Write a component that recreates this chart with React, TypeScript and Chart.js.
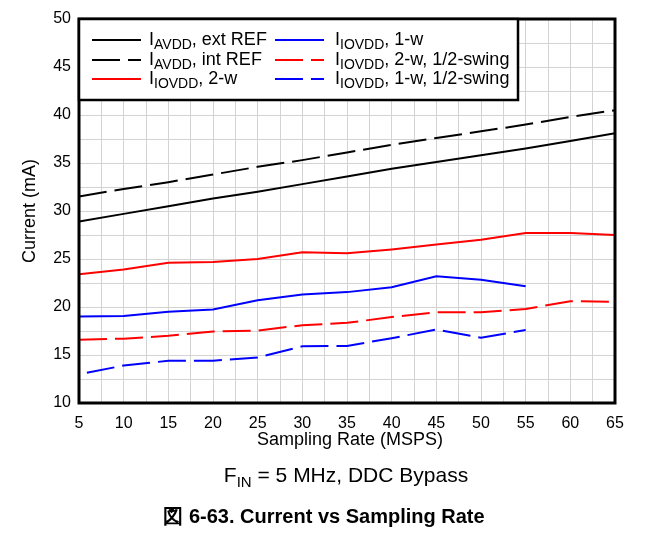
import React, { useEffect, useRef } from "react";
import { Chart, registerables } from "chart.js";

Chart.register(...registerables);

const samplingRate = [5, 10, 15, 20, 25, 30, 35, 40, 45, 50, 55, 60, 65];
const avddExtRef = [28.9, 29.7, 30.5, 31.3, 32.0, 32.8, 33.6, 34.4, 35.1, 35.8, 36.5, 37.3, 38.1];
const avddIntRef = [31.5, 32.3, 33.0, 33.8, 34.6, 35.3, 36.1, 36.9, 37.6, 38.3, 39.0, 39.8, 40.5];
const iovdd2w = [23.4, 23.9, 24.6, 24.7, 25.0, 25.7, 25.6, 26.0, 26.5, 27.0, 27.7, 27.7, 27.5];
const iovdd1w = [19.0, 19.05, 19.5, 19.75, 20.7, 21.3, 21.55, 22.05, 23.2, 22.85, 22.15];
const iovdd2wHalf = [16.6, 16.7, 17.0, 17.45, 17.55, 18.1, 18.35, 18.95, 19.45, 19.45, 19.8, 20.6, 20.55];
const iovdd1wHalf = [13.0, 13.9, 14.4, 14.4, 14.75, 15.9, 15.95, 16.75, 17.65, 16.8, 17.6];

const xTicks = [5, 10, 15, 20, 25, 30, 35, 40, 45, 50, 55, 60, 65];
const yTicks = [10, 15, 20, 25, 30, 35, 40, 45, 50];

const FONT = '"Liberation Sans", Arial, sans-serif';
const DASH = [28, 8];

type Entry = { sub: string; rest: string; color: string; dash: number[] };

const legendEntries: Entry[] = [
  { sub: "AVDD", rest: ", ext REF", color: "#000000", dash: [] },
  { sub: "AVDD", rest: ", int REF", color: "#000000", dash: DASH },
  { sub: "IOVDD", rest: ", 2-w", color: "#ff0000", dash: [] },
  { sub: "IOVDD", rest: ", 1-w", color: "#0000ff", dash: [] },
  { sub: "IOVDD", rest: ", 2-w, 1/2-swing", color: "#ff0000", dash: DASH },
  { sub: "IOVDD", rest: ", 1-w, 1/2-swing", color: "#0000ff", dash: DASH },
];

const pts = (ys: number[]) => ys.map((y, i) => ({ x: samplingRate[i], y }));

const decorPlugin = {
  id: "decor",
  afterDatasetsDraw(chart: any) {
    const { ctx, chartArea } = chart;
    ctx.save();
    ctx.strokeStyle = "#000";
    ctx.lineWidth = 3;
    ctx.strokeRect(chartArea.left, chartArea.top, chartArea.right - chartArea.left, chartArea.bottom - chartArea.top);
    ctx.restore();
  },
  afterDraw(chart: any) {
    const { ctx, chartArea } = chart;
    ctx.save();
    // legend box
    const lx = chartArea.left;
    const ly = chartArea.top;
    const lw = 439;
    const lh = 81;
    ctx.fillStyle = "#fff";
    ctx.fillRect(lx, ly, lw, lh);
    ctx.strokeStyle = "#000";
    ctx.lineWidth = 2.5;
    ctx.strokeRect(lx, ly, lw, lh);
    const rows = [40, 60, 79];
    legendEntries.forEach((e, i) => {
      const col = Math.floor(i / 3);
      const row = i % 3;
      const y = rows[row];
      const sx = col === 0 ? 92 : 275;
      const tx = col === 0 ? 149 : 335;
      ctx.save();
      ctx.strokeStyle = e.color;
      ctx.lineWidth = 2;
      ctx.setLineDash(e.dash);
      ctx.beginPath();
      ctx.moveTo(sx, y);
      ctx.lineTo(sx + 49, y);
      ctx.stroke();
      ctx.restore();
      ctx.fillStyle = "#000";
      ctx.textBaseline = "middle";
      ctx.textAlign = "left";
      ctx.font = `18px ${FONT}`;
      ctx.fillText("I", tx, y);
      let x = tx + ctx.measureText("I").width;
      ctx.font = `14px ${FONT}`;
      ctx.fillText(e.sub, x, y + 5);
      x += ctx.measureText(e.sub).width;
      ctx.font = `18px ${FONT}`;
      ctx.fillText(e.rest, x, y);
    });

    // axis titles
    ctx.fillStyle = "#000";
    ctx.textAlign = "center";
    ctx.textBaseline = "middle";
    ctx.font = `18px ${FONT}`;
    ctx.fillText("Sampling Rate (MSPS)", 350, 440);
    ctx.save();
    ctx.translate(30, (chartArea.top + chartArea.bottom) / 2);
    ctx.rotate(-Math.PI / 2);
    ctx.fillText("Current (mA)", 0, 0);
    ctx.restore();

    // caption with subscript
    ctx.textAlign = "left";
    const capMain = "F";
    const capSub = "IN";
    const capRest = " = 5 MHz, DDC Bypass";
    ctx.font = `21px ${FONT}`;
    const w1 = ctx.measureText(capMain).width;
    const w3 = ctx.measureText(capRest).width;
    ctx.font = `15px ${FONT}`;
    const w2 = ctx.measureText(capSub).width;
    let x0 = 346 - (w1 + w2 + w3) / 2;
    ctx.font = `21px ${FONT}`;
    ctx.fillText(capMain, x0, 476);
    x0 += w1;
    ctx.font = `15px ${FONT}`;
    ctx.fillText(capSub, x0, 483);
    x0 += w2;
    ctx.font = `21px ${FONT}`;
    ctx.fillText(capRest, x0, 476);

    ctx.textAlign = "center";
    ctx.font = `bold 20px ${FONT}`;
    ctx.fillText("図 6-63. Current vs Sampling Rate", 324, 517);
    ctx.restore();
  },
};

export default function App() {
  const ref = useRef<HTMLCanvasElement>(null);
  useEffect(() => {
    if (!ref.current) return;
    const mk = (label: string, ys: number[], color: string, dash: number[], offset = 0) => ({
      label,
      data: pts(ys),
      borderColor: color,
      backgroundColor: color,
      borderWidth: 2,
      borderDash: dash,
      borderDashOffset: offset,
      pointRadius: 0,
      tension: 0,
      fill: false,
    });
    const chart = new Chart(ref.current, {
      type: "line",
      data: {
        datasets: [
          mk("IAVDD, ext REF", avddExtRef, "#000000", []),
          mk("IAVDD, int REF", avddIntRef, "#000000", DASH),
          mk("IIOVDD, 2-w", iovdd2w, "#ff0000", []),
          mk("IIOVDD, 1-w", iovdd1w, "#0000ff", []),
          mk("IIOVDD, 2-w, 1/2-swing", iovdd2wHalf, "#ff0000", DASH),
          mk("IIOVDD, 1-w, 1/2-swing", iovdd1wHalf, "#0000ff", DASH, 28),
        ],
      },
      options: {
        responsive: false,
        animation: false,
        devicePixelRatio: 1,
        layout: { padding: { left: 0, right: 38, top: 19, bottom: 0 } },
        plugins: { legend: { display: false }, tooltip: { enabled: false }, title: { display: false } },
        scales: {
          x: {
            type: "linear",
            min: 5,
            max: 65,
            afterFit: (s: any) => { s.height = 136; },
            afterBuildTicks: (s: any) => {
              const t: any[] = [];
              for (let v = 5; v <= 65.001; v += 2.5) t.push({ value: v });
              s.ticks = t;
            },
            grid: { color: "#d3d3d3", lineWidth: 1, drawTicks: false },
            border: { display: false },
            ticks: {
              autoSkip: false,
              maxRotation: 0,
              padding: 11,
              color: "#000",
              font: { family: FONT, size: 16 },
              callback: (v: any) => (xTicks.includes(Number(v)) ? String(v) : ""),
            },
          },
          y: {
            min: 10,
            max: 50,
            afterFit: (s: any) => { s.width = 79; },
            afterBuildTicks: (s: any) => {
              const t: any[] = [];
              for (let v = 10; v <= 50.001; v += 2.5) t.push({ value: v });
              s.ticks = t;
            },
            grid: { color: "#d3d3d3", lineWidth: 1, drawTicks: false },
            border: { display: false },
            ticks: {
              autoSkip: false,
              padding: 8,
              color: "#000",
              font: { family: FONT, size: 16 },
              callback: (v: any) => (yTicks.includes(Number(v)) ? String(v) : ""),
            },
          },
        },
      },
      plugins: [decorPlugin],
    } as any);
    return () => chart.destroy();
  }, []);
  return (
    <div style={{ position: "absolute", left: 0, top: 0, width: 653, height: 539, background: "#fff" }}>
      <canvas ref={ref} width={653} height={539} style={{ display: "block" }} />
    </div>
  );
}
